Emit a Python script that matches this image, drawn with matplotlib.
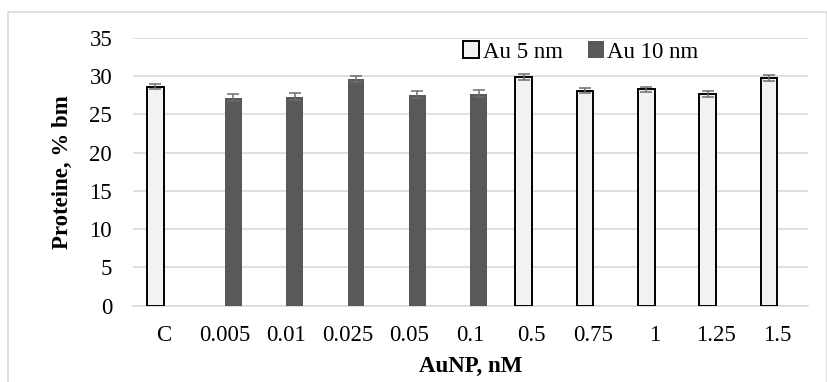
import numpy as np
import matplotlib
matplotlib.use('Agg')
from matplotlib import pyplot as plt
from matplotlib.patches import Rectangle

categories = ['C', '0.005', '0.01', '0.025', '0.05', '0.1', '0.5', '0.75', '1', '1.25', '1.5']
au5 = [28.6, np.nan, np.nan, np.nan, np.nan, np.nan, 29.85, 28.1, 28.25, 27.6, 29.7]
au5_err = [0.35, np.nan, np.nan, np.nan, np.nan, np.nan, 0.4, 0.35, 0.35, 0.4, 0.4]
au10 = [np.nan, 27.15, 27.3, 29.55, 27.55, 27.7, np.nan, np.nan, np.nan, np.nan, np.nan]
au10_err = [np.nan, 0.45, 0.5, 0.4, 0.45, 0.5, np.nan, np.nan, np.nan, np.nan, np.nan]

plt.rcParams['font.family'] = ['Liberation Serif', 'DejaVu Serif']
fs = 16.5

fig = plt.figure(figsize=(8.28, 3.82), dpi=100)
ax = fig.add_axes([133/828, 1-305.7/382, (808-133)/828, (305.7-37.7)/382])

# outer frame like the excel chart area
fig.patches.append(Rectangle((8/828, -0.05), 819/828, 1.05-12/382, transform=fig.transFigure,
                             fill=False, edgecolor='#d9d9d9', linewidth=1.2))

x = np.arange(len(categories))
w = 0.27
b5 = ax.bar(x - w/2, au5, w, color='#f2f2f2', edgecolor='black', linewidth=1.4, label='Au 5 nm', zorder=3)
b10 = ax.bar(x + w/2, au10, w, color='#595959', edgecolor='none', label='Au 10 nm', zorder=3)
ax.errorbar(x - w/2, au5, yerr=au5_err, fmt='none', ecolor='#6d6d6d', elinewidth=1.1, capsize=4.5, capthick=1.1, zorder=4)
ax.errorbar(x + w/2, au10, yerr=au10_err, fmt='none', ecolor='#6d6d6d', elinewidth=1.1, capsize=4.5, capthick=1.1, zorder=4)

ax.set_xlim(-0.5, len(categories) - 0.5)
ax.set_ylim(0, 35)
ax.set_yticks(range(0, 36, 5))
ax.set_xticks(x)
ax.set_xticklabels(categories)
ax.tick_params(length=0, labelsize=fs)
ax.tick_params(axis='y', pad=15)
ax.tick_params(axis='x', pad=14)
ax.grid(axis='y', color='#d9d9d9', linewidth=1.2, zorder=0)
ax.set_axisbelow(True)
for s in ['top', 'right', 'left']:
    ax.spines[s].set_visible(False)
ax.spines['bottom'].set_color('#d9d9d9')
ax.spines['bottom'].set_linewidth(1.2)

ax.set_ylabel('Proteine, % bm', fontsize=fs, fontweight='bold', labelpad=12)
ax.set_xlabel('AuNP, nM', fontsize=fs, fontweight='bold', labelpad=7)

fig.legend(handles=[b5, b10], loc='center', bbox_to_anchor=(581/828, 1-52/382), ncol=2,
           frameon=False, fontsize=fs, handlelength=0.7, handleheight=0.7, handletextpad=0.15,
           columnspacing=1.1, borderpad=0, borderaxespad=0)

fig.savefig('out.png', dpi=100)
